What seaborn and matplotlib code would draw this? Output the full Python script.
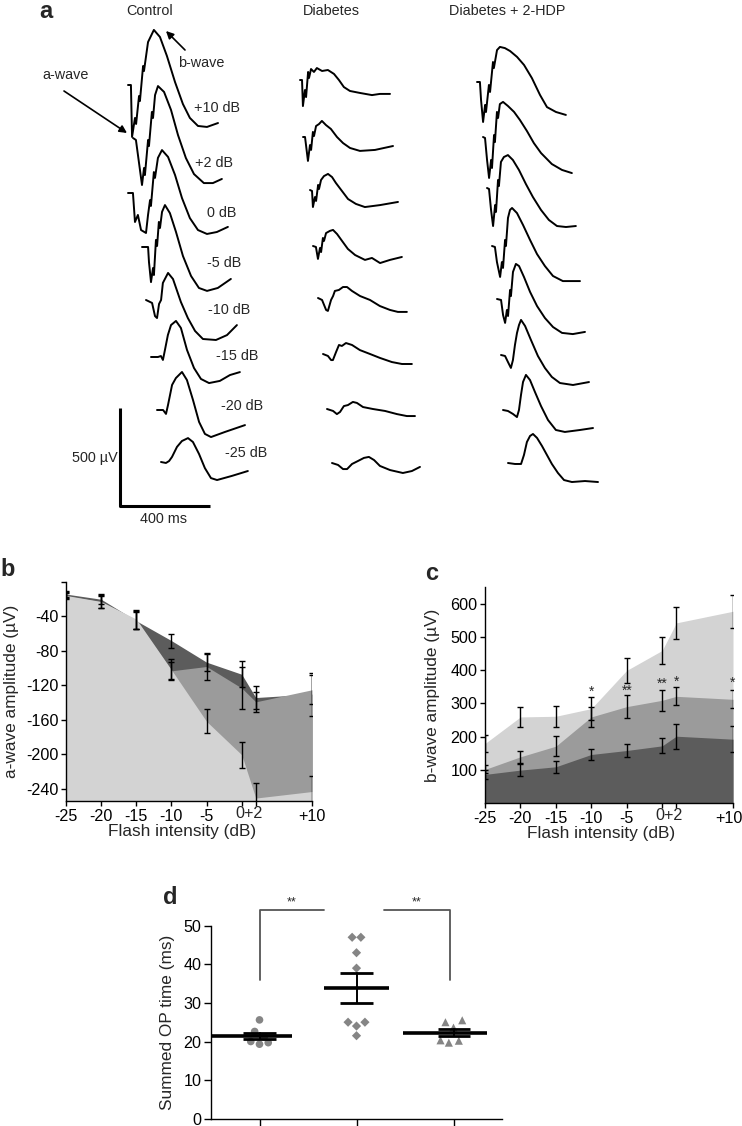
import numpy as np
import seaborn as sns
import matplotlib.pyplot as plt
import matplotlib.transforms as mtransforms

sns.set_theme(style="ticks")
plt.rcParams['font.family'] = ['Liberation Sans', 'DejaVu Sans']

W, H = 742, 1126

# ---------------- panel a: ERG traces ----------------
# time (ms) after flash onset, voltage (uV) from baseline, one list per trace
intensities = ['+10 dB', '+2 dB', '0 dB', '-5 dB', '-10 dB', '-15 dB', '-20 dB', '-25 dB']
groups = ['Control', 'Diabetes', 'Diabetes + 2-HDP']

ctrl_t = [
    [0, 13, 18, 31, 36, 49, 53, 67, 71, 89, 115, 142, 173, 209, 244, 275, 311, 351, 400],
    [0, 13, 40, 49, 53, 67, 71, 84, 89, 98, 111, 138, 169, 200, 235, 271, 315, 355, 395],
    [0, 22, 31, 44, 58, 80, 89, 98, 102, 115, 120, 133, 151, 178, 209, 240, 275, 311, 351, 395, 444],
    [0, 27, 31, 40, 49, 53, 62, 67, 75, 80, 89, 102, 124, 151, 182, 218, 253, 289, 337, 395],
    [0, 27, 40, 49, 58, 67, 75, 84, 98, 120, 155, 186, 218, 253, 311, 360, 404],
    [0, 31, 44, 53, 62, 75, 89, 111, 133, 160, 191, 222, 258, 306, 351, 395],
    [0, 27, 40, 49, 67, 84, 111, 133, 160, 187, 213, 240, 302, 391],
    [0, 22, 36, 49, 71, 93, 120, 142, 169, 195, 222, 249, 315, 386],
]
ctrl_v = [
    [0, 0, -265, -168, -199, -56, -82, 97, 71, 219, 281, 245, 148, 15, -97, -168, -209, -214, -194],
    [0, -10, -240, -153, -189, -10, -41, 133, 102, 219, 265, 235, 143, 15, -102, -184, -230, -230, -209],
    [0, 0, -148, -112, -189, -204, -112, -36, -66, 107, 77, 179, 219, 184, 92, -26, -128, -189, -209, -199, -173],
    [0, 0, -77, -179, -107, -143, 36, 5, 128, 97, 179, 214, 173, 77, -46, -148, -209, -224, -209, -163],
    [0, -15, -82, -92, -20, 0, 87, 107, 138, 107, -10, -92, -158, -199, -204, -179, -128],
    [0, 0, 5, -15, 36, 112, 163, 184, 148, 36, -56, -112, -133, -122, -92, -77],
    [0, 0, -20, 26, 128, 163, 194, 153, 51, -61, -122, -138, -112, -77],
    [0, -5, 5, 26, 77, 107, 122, 102, 41, -31, -82, -92, -71, -46],
]
diab_t = [
    [0, 9, 13, 22, 27, 36, 40, 49, 62, 75, 98, 124, 151, 173, 195, 222, 266, 320, 355, 400],
    [0, 9, 22, 31, 36, 44, 49, 58, 71, 84, 102, 124, 151, 178, 209, 253, 320, 400],
    [0, 9, 13, 22, 27, 36, 40, 49, 62, 80, 98, 115, 142, 169, 204, 244, 311, 391],
    [0, 13, 22, 31, 36, 44, 49, 58, 75, 89, 107, 129, 155, 187, 231, 262, 298, 342, 395],
    [0, 18, 36, 44, 58, 67, 75, 93, 111, 129, 151, 187, 231, 275, 320, 355, 395],
    [0, 22, 36, 44, 58, 71, 84, 102, 129, 164, 209, 253, 306, 351, 395],
    [0, 27, 44, 58, 75, 93, 115, 133, 160, 204, 258, 311, 355, 391],
    [0, 27, 49, 67, 89, 115, 142, 164, 187, 213, 258, 315, 355, 391],
]
diab_v = [
    [0, 0, -133, -51, -87, 41, 10, 56, 41, 61, 46, 51, 31, 0, -36, -56, -66, -77, -71, -71],
    [0, 0, -122, -41, -66, 26, 5, 56, 66, 82, 61, 41, 0, -31, -56, -71, -66, -46],
    [0, -5, -87, -36, -56, 26, 5, 51, 71, 82, 66, 36, -5, -46, -71, -87, -77, -61],
    [0, -5, -66, -10, -31, 41, 26, 66, 77, 82, 61, 26, -15, -46, -71, -61, -87, -71, -56],
    [0, -10, -61, -66, -10, 10, 36, 41, 56, 56, 36, 10, -10, -41, -61, -71, -71],
    [0, -10, -31, -31, 10, 46, 41, 56, 46, 20, 0, -20, -41, -51, -51],
    [0, -10, -26, -15, 15, 20, 36, 31, 10, 0, -10, -26, -36, -36],
    [0, -10, -31, -31, -5, 10, 26, 31, 15, -15, -36, -51, -41, -20],
]
hdp_t = [
    [0, 13, 18, 27, 36, 40, 53, 58, 71, 75, 89, 102, 124, 147, 178, 209, 244, 280, 311, 351, 395],
    [0, 9, 18, 27, 36, 40, 49, 53, 62, 67, 75, 89, 111, 138, 164, 195, 226, 258, 306, 351, 395],
    [0, 9, 18, 27, 36, 40, 49, 53, 62, 75, 93, 115, 142, 173, 204, 240, 275, 311, 351, 395],
    [0, 13, 22, 36, 44, 49, 58, 62, 71, 80, 89, 111, 138, 169, 200, 235, 271, 315, 355, 391],
    [0, 18, 27, 36, 44, 49, 58, 62, 71, 84, 98, 120, 147, 178, 213, 249, 289, 337, 391],
    [0, 18, 31, 44, 53, 62, 71, 80, 89, 107, 133, 164, 195, 226, 262, 320, 391],
    [0, 22, 44, 62, 71, 80, 89, 102, 120, 142, 169, 200, 235, 275, 342, 400],
    [0, 31, 58, 71, 84, 98, 111, 129, 151, 173, 195, 222, 249, 284, 342, 400],
]
hdp_v = [
    [0, 0, -92, -204, -117, -153, -15, -51, 102, 71, 163, 179, 173, 158, 128, 87, 20, -66, -128, -153, -168],
    [0, -5, -117, -209, -117, -158, 10, -26, 128, 97, 168, 179, 158, 128, 87, 31, -31, -82, -138, -168, -184],
    [0, -5, -112, -194, -87, -122, 41, 10, 133, 158, 168, 143, 92, 20, -46, -112, -163, -194, -199, -194],
    [0, -5, -82, -158, -82, -112, 31, 0, 143, 184, 194, 168, 107, 31, -41, -102, -153, -179, -179, -179],
    [0, -5, -82, -122, -56, -87, 46, 15, 138, 179, 168, 112, 36, -36, -97, -143, -173, -179, -168],
    [0, -5, -36, -66, -26, 51, 112, 153, 179, 148, 77, -5, -66, -112, -143, -153, -138],
    [0, -5, -20, -36, 0, 77, 143, 179, 153, 92, 20, -51, -102, -112, -102, -92],
    [0, -5, -5, 41, 107, 138, 148, 128, 87, 41, -5, -51, -87, -97, -92, -97],
]

# ---------------- panels b, c: amplitude vs flash intensity ----------------
flash = [-25, -20, -15, -10, -5, 0, 2, 10]
a_ctrl = [-15.6, -22.6, -43, -101.8, -161.7, -200.4, -250.6, -243]
a_ctrl_sem = [4, 8, 11, 12, 14, 15, 18, 18]
a_hdp = [-16, -23, -44, -103, -98, -123, -139, -125]
a_hdp_sem = [3, 7, 10, 10, 16, 24, 12, 17]
a_diab = [-14, -20, -45, -68, -93, -107, -134, -130]
a_diab_sem = [3, 6, 10, 8, 10, 15, 13, 25]

b_ctrl = [179, 259, 261, 284, 399, 459, 542, 577]
b_ctrl_sem = [25, 31, 32, 34, 37, 40, 48, 50]
b_hdp = [101, 139, 171, 259, 290, 309, 321, 312]
b_hdp_sem = [12, 18, 30, 30, 34, 32, 27, 27]
b_diab = [86, 99, 109, 146, 158, 172, 201, 192]
b_diab_sem = [14, 19, 18, 18, 20, 23, 37, 40]
b_stars = ['*', '**', '**', '*', '*']
b_star_x = [-10, -5, 0, 2, 10]
b_star_y = [336, 339, 358, 366, 361]

# ---------------- panel d: summed OP time ----------------
op_ctrl = [25.6, 22.6, 21.2, 20.0, 19.3, 19.7]
op_ctrl_dx = [0.0, -0.05, 0.05, -0.09, 0.0, 0.09]
op_diab = [47, 47, 43, 39, 25, 25, 24, 21.5]
op_diab_dx = [-0.045, 0.045, 0.0, 0.0, -0.087, 0.087, 0.0, 0.0]
op_hdp = [25.0, 25.5, 23.6, 20.3, 19.7, 20.2]
op_hdp_dx = [-0.083, 0.09, 0.0, -0.134, -0.048, 0.055]
op_mean = [21.4, 33.9, 22.3]
op_sem = [0.8, 3.9, 0.95]

LIGHT, MID, DARK = '#d3d3d3', '#9b9b9b', '#5c5c5c'
MS_PER_PX, UV_PER_PX = 400 / 90, 500 / 98

fig = plt.figure(figsize=(W / 100, H / 100), dpi=100)


def fx(x):
    return x / W


def fy(y):
    return 1 - y / H


# panel a axes: data units are ms and uV
ax_a = fig.add_axes([0, fy(540), 1, 540 / H])
ax_a.set_xlim(0, W * MS_PER_PX)
ax_a.set_ylim(-540 * UV_PER_PX, 0)
ax_a.set_axis_off()

starts = {
    'Control': [(128, 85), (133, 138), (128, 193), (142, 247), (146, 300), (151, 357), (157, 410), (161, 462)],
    'Diabetes': [(300, 80), (303, 137), (310, 190), (313, 246), (318, 298), (323, 354), (327, 409), (332, 463)],
    'Diabetes + 2-HDP': [(477, 82), (483, 137), (487, 188), (492, 246), (497, 299), (501, 355), (503, 410), (508, 463)],
}
traces = {'Control': (ctrl_t, ctrl_v), 'Diabetes': (diab_t, diab_v), 'Diabetes + 2-HDP': (hdp_t, hdp_v)}
for g in groups:
    ts, vs = traces[g]
    for (sx, sy), t, v in zip(starts[g], ts, vs):
        sns.lineplot(x=np.array(t) + sx * MS_PER_PX, y=np.array(v) - sy * UV_PER_PX,
                     sort=False, estimator=None, color='black', lw=1.4, ax=ax_a)

# scale bar 500 uV / 400 ms
x0, y0 = 120 * MS_PER_PX, -506 * UV_PER_PX
ax_a.plot([x0, x0, x0 + 400], [y0 + 500, y0, y0], color='black', lw=2.2, solid_capstyle='butt')

fs_a = 10.4
for g, xc in zip(groups, [150, 331, 507]):
    fig.text(fx(xc), fy(11), g, ha='center', va='center', fontsize=fs_a)
for lab, (lx, ly) in zip(intensities, [(194, 108), (195, 163), (207, 213), (207, 263),
                                       (208, 310), (216, 356), (221, 406), (225, 453)]):
    fig.text(fx(lx), fy(ly), lab, ha='left', va='center', fontsize=fs_a)
fig.text(fx(95), fy(458), '500 µV', ha='center', va='center', fontsize=fs_a)
fig.text(fx(163), fy(519), '400 ms', ha='center', va='center', fontsize=fs_a)
fig.text(fx(66), fy(75), 'a-wave', ha='center', va='center', fontsize=fs_a)
fig.text(fx(201), fy(63), 'b-wave', ha='center', va='center', fontsize=fs_a)
arrow = dict(arrowstyle='-|>', color='black', lw=1.2, mutation_scale=11, shrinkA=0, shrinkB=0)
ax_a.annotate('', xy=(fx(127), fy(133)), xytext=(fx(64), fy(91)),
              xycoords='figure fraction', textcoords='figure fraction', arrowprops=arrow)
ax_a.annotate('', xy=(fx(166), fy(31)), xytext=(fx(185), fy(50)),
              xycoords='figure fraction', textcoords='figure fraction', arrowprops=arrow)

# panel letters
for letter, (lx, ly) in zip('abcd', [(46, 12), (8, 570), (432, 573), (170, 898)]):
    fig.text(fx(lx), fy(ly), letter, ha='center', va='center', fontsize=17, fontweight='bold')

TICK_FS = 11.6
LAB_FS = 12.4
err_kw = dict(fmt='none', ecolor='black', elinewidth=1.0, capsize=2.4, capthick=1.0, zorder=5)
xtick_lab = ['-25', '-20', '-15', '-10', '-5', '', '', '+10']

# panel b
ax_b = fig.add_axes([fx(66), fy(801), 246 / W, 219 / H])
ax_b.fill_between(flash, a_diab, -254, color=DARK, lw=0)
ax_b.fill_between(flash, a_hdp, -254, color=MID, lw=0)
ax_b.fill_between(flash, a_ctrl, -254, color=LIGHT, lw=0)
for m, s in [(a_diab, a_diab_sem), (a_hdp, a_hdp_sem), (a_ctrl, a_ctrl_sem)]:
    ax_b.errorbar(flash, m, yerr=s, **err_kw)
ax_b.set_xlim(-25, 10)
ax_b.set_ylim(-254, 0)
ax_b.set_yticks([0, -40, -80, -120, -160, -200, -240], ['', '-40', '-80', '-120', '-160', '-200', '-240'])
ax_b.set_ylabel('a-wave amplitude (µV)', fontsize=LAB_FS)
ax_b.yaxis.set_label_coords(-0.19, 0.5)

# panel c
ax_c = fig.add_axes([fx(485), fy(803), 248 / W, 216 / H])
ax_c.fill_between(flash, b_ctrl, 0, color=LIGHT, lw=0)
ax_c.fill_between(flash, b_hdp, 0, color=MID, lw=0)
ax_c.fill_between(flash, b_diab, 0, color=DARK, lw=0)
for m, s in [(b_ctrl, b_ctrl_sem), (b_hdp, b_hdp_sem), (b_diab, b_diab_sem)]:
    ax_c.errorbar(flash, m, yerr=s, **err_kw)
for sx, sy, st in zip(b_star_x, b_star_y, b_stars):
    ax_c.text(sx, sy, st, ha='center', va='center', fontsize=10)
ax_c.set_xlim(-25, 10)
ax_c.set_ylim(0, 650)
ax_c.set_yticks([100, 200, 300, 400, 500, 600])
ax_c.set_ylabel('b-wave amplitude (µV)', fontsize=LAB_FS)
ax_c.yaxis.set_label_coords(-0.18, 0.5)

for ax in (ax_b, ax_c):
    ax.set_xticks(flash, xtick_lab)
    ax.set_xticks([1], ['0+2'], minor=True)
    ax.tick_params(axis='x', which='minor', length=0, labelsize=TICK_FS, pad=3.5)
    ax.tick_params(axis='both', which='major', length=3.5, width=1, labelsize=TICK_FS, pad=2,
                   color='black', labelcolor='black')
    ax.set_xlabel('Flash intensity (dB)', fontsize=LAB_FS)
    ax.xaxis.set_label_coords(0.47, -0.105)
    for sp in ('left', 'bottom'):
        ax.spines[sp].set_color('black')
        ax.spines[sp].set_linewidth(1.0)
    sns.despine(ax=ax)
    ax.set_facecolor('none')

# keep the last tick label of panel c inside the figure edge
shift = mtransforms.ScaledTranslation(-4 / 100, 0, fig.dpi_scale_trans)
last_lab = ax_c.get_xticklabels()[-1]
last_lab.set_transform(last_lab.get_transform() + shift)

# panel d
ax_d = fig.add_axes([fx(211), fy(1118.7), 291 / W, 193 / H])
sns.scatterplot(x=np.array(op_ctrl_dx) + 0, y=op_ctrl, marker='o', s=30, color='#858585',
                edgecolor='none', ax=ax_d, zorder=2)
sns.scatterplot(x=np.array(op_diab_dx) + 1, y=op_diab, marker='D', s=22, color='#858585',
                edgecolor='none', ax=ax_d, zorder=2)
sns.scatterplot(x=np.array(op_hdp_dx) + 2, y=op_hdp, marker='^', s=34, color='#858585',
                edgecolor='none', ax=ax_d, zorder=2)
mean_span = [(-0.5, 0.34), (0.66, 1.34), (1.48, 2.35)]
cap_span = [(-0.17, 0.17), (0.83, 1.17), (1.84, 2.17)]
for i, (m, s) in enumerate(zip(op_mean, op_sem)):
    xc = (cap_span[i][0] + cap_span[i][1]) / 2
    ax_d.plot(mean_span[i], [m, m], color='black', lw=2.6, solid_capstyle='butt', zorder=4)
    ax_d.plot(cap_span[i], [m + s, m + s], color='black', lw=2.0, solid_capstyle='butt', zorder=4)
    ax_d.plot(cap_span[i], [m - s, m - s], color='black', lw=2.0, solid_capstyle='butt', zorder=4)
    ax_d.plot([xc, xc], [m - s, m + s], color='black', lw=1.4, zorder=4)
br = dict(color='#555555', lw=1.3, clip_on=False)
ax_d.plot([0, 0, 0.67], [36, 54.1, 54.1], **br)
ax_d.plot([1.28, 1.96, 1.96], [54.1, 54.1, 36], **br)
ax_d.text(0.33, 56.0, '**', ha='center', va='center', fontsize=9, clip_on=False)
ax_d.text(1.62, 56.0, '**', ha='center', va='center', fontsize=9, clip_on=False)
ax_d.set_xlim(-0.5, 2.5)
ax_d.set_ylim(0, 50)
ax_d.set_xticks([0, 1, 2], ['', '', ''])
ax_d.set_yticks([0, 10, 20, 30, 40, 50])
ax_d.tick_params(axis='both', length=5, width=1, labelsize=TICK_FS, pad=2, color='black',
                 labelcolor='black')
ax_d.set_ylabel('Summed OP time (ms)', fontsize=LAB_FS)
ax_d.yaxis.set_label_coords(-0.125, 0.5)
for sp in ('left', 'bottom'):
    ax_d.spines[sp].set_color('black')
    ax_d.spines[sp].set_linewidth(1.0)
sns.despine(ax=ax_d)
ax_d.set_facecolor('none')

fig.savefig('out.png', dpi=100)
